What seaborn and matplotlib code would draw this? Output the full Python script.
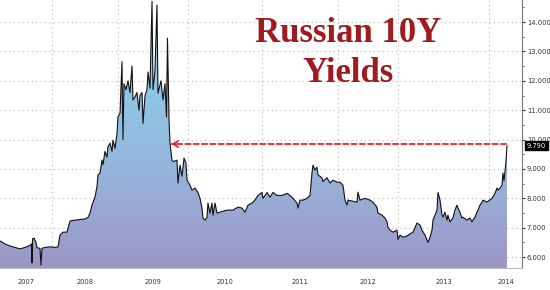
import numpy as np
import pandas as pd
import matplotlib
matplotlib.use("Agg")
import matplotlib.pyplot as plt
from matplotlib.colors import LinearSegmentedColormap
import matplotlib.ticker as mticker
import seaborn as sns

# ---------------- data (decimal year, yield %) ----------------
DATES = [
    2007.212, 2007.288, 2007.364, 2007.439, 2007.515, 2007.591, 2007.667, 2007.689, 2007.697, 2007.705,
    2007.727, 2007.758, 2007.773, 2007.818, 2007.833, 2007.848, 2007.894, 2007.970,
    2008.045, 2008.091, 2008.121, 2008.167, 2008.227, 2008.273, 2008.348, 2008.424, 2008.500, 2008.545,
    2008.576, 2008.606, 2008.652, 2008.682, 2008.697, 2008.727, 2008.758, 2008.773, 2008.803, 2008.833,
    2008.848, 2008.879, 2008.909, 2008.924, 2008.955, 2008.985,
    2009.000, 2009.029, 2009.043, 2009.057, 2009.071, 2009.086, 2009.114, 2009.143, 2009.171, 2009.200,
    2009.214, 2009.243, 2009.271, 2009.300, 2009.314, 2009.343, 2009.357, 2009.386, 2009.414, 2009.429,
    2009.457, 2009.486, 2009.500, 2009.529, 2009.557, 2009.571, 2009.614, 2009.643, 2009.671, 2009.693,
    2009.707, 2009.729, 2009.743, 2009.771, 2009.786, 2009.843, 2009.857, 2009.886, 2009.914, 2009.943,
    2009.971, 2009.986,
    2010.027, 2010.054, 2010.095, 2010.135, 2010.162, 2010.189, 2010.203, 2010.230, 2010.257, 2010.270,
    2010.297, 2010.324, 2010.338, 2010.365, 2010.392, 2010.432, 2010.527, 2010.608, 2010.676, 2010.730,
    2010.770, 2010.811, 2010.865, 2010.905, 2010.946,
    2011.000, 2011.013, 2011.066, 2011.105, 2011.145, 2011.197, 2011.263, 2011.329, 2011.368, 2011.408,
    2011.461, 2011.474, 2011.500, 2011.539, 2011.592, 2011.632, 2011.658, 2011.671, 2011.697, 2011.724,
    2011.737, 2011.789, 2011.803, 2011.855, 2011.895, 2011.934, 2011.987,
    2012.033, 2012.083, 2012.117, 2012.150, 2012.167, 2012.250, 2012.317, 2012.333, 2012.367, 2012.450,
    2012.533, 2012.583, 2012.650, 2012.667, 2012.733, 2012.783, 2012.817, 2012.833, 2012.867, 2012.917,
    2012.983,
    2013.000, 2013.022, 2013.055, 2013.099, 2013.132, 2013.165, 2013.209, 2013.242, 2013.264, 2013.297,
    2013.330, 2013.352, 2013.374, 2013.385, 2013.407, 2013.429, 2013.440, 2013.462, 2013.484, 2013.495,
    2013.516, 2013.538, 2013.549, 2013.571, 2013.604, 2013.626, 2013.648, 2013.659, 2013.681, 2013.703,
    2013.714, 2013.758, 2013.791, 2013.813, 2013.824, 2013.846, 2013.868, 2013.879, 2013.901, 2013.923,
    2013.934, 2013.978, 2013.989,
    2014.033, 2014.066, 2014.088, 2014.099, 2014.121, 2014.143, 2014.154, 2014.165, 2014.187, 2014.198,
]
YIELDS = [
    6.55, 6.45, 6.38, 6.33, 6.28, 6.33, 6.40, 6.45, 5.80, 6.62,
    6.65, 6.50, 6.32, 6.30, 5.73, 6.30, 6.33, 6.35,
    6.33, 6.35, 6.75, 6.85, 6.85, 7.23, 7.26, 7.28, 7.30, 7.35,
    7.50, 7.77, 8.05, 8.40, 8.80, 8.86, 9.30, 9.15, 9.60, 9.40,
    9.75, 9.88, 9.60, 9.98, 9.70, 10.20,
    10.77, 10.90, 11.80, 12.65, 10.00, 11.90, 11.70, 12.00, 11.60, 12.50,
    11.35, 11.45, 11.60, 11.00, 11.50, 11.60, 10.55, 11.50, 11.70, 12.30,
    11.75, 14.70, 11.70, 12.37, 14.58, 11.58, 12.00, 11.35, 11.90, 10.77,
    13.45, 10.67, 9.88, 9.30, 9.25, 9.30, 8.52, 9.13, 8.75, 9.37,
    9.20, 8.62,
    8.45, 8.28, 8.35, 8.20, 8.00, 7.67, 7.33, 7.26, 7.36, 7.84,
    7.50, 7.84, 7.43, 7.84, 7.50, 7.53, 7.60, 7.60, 7.70, 7.67,
    7.53, 7.77, 7.84, 7.94, 8.10,
    8.20, 8.00, 8.20, 8.04, 8.20, 8.10, 8.10, 8.17, 8.10, 8.00,
    7.84, 7.67, 7.94, 7.94, 8.00, 8.10, 8.86, 9.13, 8.96, 9.06,
    8.80, 8.70, 8.57, 8.70, 8.52, 8.62, 8.55,
    8.55, 8.45, 7.94, 7.77, 7.94, 7.90, 7.87, 8.21, 7.94, 8.00,
    7.94, 7.87, 7.70, 7.50, 7.43, 7.33, 7.20, 7.02, 6.92, 6.85,
    6.92,
    6.60, 6.75, 6.68, 6.72, 6.79, 6.85, 7.16, 7.09, 6.92, 6.75,
    6.50, 6.68, 6.92, 7.26, 7.43, 7.60, 8.20, 7.94, 7.43, 7.36,
    7.53, 7.26, 7.43, 7.20, 7.33, 7.60, 7.77, 7.67, 7.53, 7.33,
    7.36, 7.26, 7.33, 7.20, 7.26, 7.36, 7.53, 7.60, 7.77, 7.87,
    7.94, 7.87, 7.90,
    8.00, 8.17, 8.35, 8.28, 8.35, 8.45, 8.86, 8.60, 9.23, 9.79,
]
YEARS = [2007, 2008, 2009, 2010, 2011, 2012, 2013, 2014]
Y_TICKS = [6, 7, 8, 9, 10, 11, 12, 13, 14]
LAST_VALUE = 9.79
ARROW_LEVEL = 9.85
ARROW_FROM = 2014.19
ARROW_TO = 2009.765
TITLE_LINES = ["Russian 10Y", "Yields"]

df = pd.DataFrame({"date": DATES, "yield": YIELDS})

# ---------------- style ----------------
sns.set_style("white")
plt.rcParams["font.family"] = ["DejaVu Sans"]

# piecewise year -> screen mapping of the original terminal chart
YEAR_EDGES = np.array([2007, 2008, 2009, 2010, 2011, 2012, 2013, 2014, 2015], float)
EDGE_POS = np.array([-14, 52, 118, 188, 262, 338, 398, 489, 580], float)


def fwd(x):
    x = np.asarray(x, float)
    out = np.interp(x, YEAR_EDGES, EDGE_POS)
    out = np.where(x < YEAR_EDGES[0], EDGE_POS[0] + (x - YEAR_EDGES[0]) * 66, out)
    out = np.where(x > YEAR_EDGES[-1], EDGE_POS[-1] + (x - YEAR_EDGES[-1]) * 91, out)
    return out


def inv(p):
    p = np.asarray(p, float)
    out = np.interp(p, EDGE_POS, YEAR_EDGES)
    out = np.where(p < EDGE_POS[0], YEAR_EDGES[0] + (p - EDGE_POS[0]) / 66, out)
    out = np.where(p > EDGE_POS[-1], YEAR_EDGES[-1] + (p - EDGE_POS[-1]) / 91, out)
    return out


fig = plt.figure(figsize=(5.5, 2.9), dpi=100)
ax = fig.add_axes([0.0, 22 / 290, 522 / 550, 268 / 290])
ax.set_xscale("function", functions=(fwd, inv))

XMIN, XMAX = 2007.212, 2014.363
YMIN, YMAX = 5.63, 14.75
ax.set_xlim(XMIN, XMAX)
ax.set_ylim(YMIN, YMAX)

# gradient fill under the curve
fill = ax.fill_between(df["date"], df["yield"], YMIN - 1, color="none", lw=0, zorder=1)
cmap = LinearSegmentedColormap.from_list(
    "g", [(0.0, "#9c96c6"), (0.28, "#98aed7"), (0.5, "#93bee1"), (0.75, "#8ccbe8"), (1.0, "#8ad2ee")])
grad = np.linspace(0, 1, 256).reshape(-1, 1)
im = ax.imshow(grad, extent=[XMIN, XMAX, YMIN, YMAX], origin="lower",
               aspect="auto", cmap=cmap, zorder=1, interpolation="bilinear")
path = fill.get_paths()[0]
im.set_clip_path(path, transform=fill.get_transform())

sns.lineplot(data=df, x="date", y="yield", color="#111111", lw=0.8, ax=ax,
             estimator=None, sort=True, zorder=3)

ax.set_xlim(XMIN, XMAX)
ax.set_ylim(YMIN, YMAX)

# grid
for yv in Y_TICKS:
    ax.axhline(yv, color="#b8b8b8", lw=0.8, ls=(0, (1, 3)), zorder=0.5)
for yr in YEARS[1:]:
    ax.axvline(yr, color="#b8b8b8", lw=0.8, ls=(0, (1, 3)), zorder=0.5)

# spines
for s in ["left", "top"]:
    ax.spines[s].set_visible(False)
ax.spines["right"].set_color("#777777")
ax.spines["right"].set_linewidth(0.8)
ax.spines["bottom"].set_color("#bbbbbb")
ax.spines["bottom"].set_linewidth(0.8)

# y axis on the right
ax.yaxis.tick_right()
ax.set_yticks(Y_TICKS)
ax.yaxis.set_major_formatter(mticker.FormatStrFormatter("%.3f"))
ax.yaxis.set_minor_locator(mticker.MultipleLocator(0.5))
ax.tick_params(axis="y", which="major", direction="out", length=2.5, width=0.8,
               color="#333333", labelsize=4.9, labelcolor="#333333", pad=1.0)
ax.tick_params(axis="y", which="minor", direction="out", length=1.5, width=0.6, color="#555555")

# x axis: year separators + labels
ax.set_xticks(YEARS[1:])
ax.set_xticklabels([])
ax.xaxis.set_minor_locator(mticker.NullLocator())
ax.tick_params(axis="x", which="major", direction="out", length=20, width=0.8, color="#bbbbbb")
ax.set_xlabel("")
ax.set_ylabel("")

for yr in YEARS:
    lo, hi = max(yr, XMIN), min(yr + 1, XMAX)
    mid = float(inv((fwd(lo) + fwd(hi)) / 2))
    ax.text(mid, -0.052, str(yr), transform=ax.get_xaxis_transform(), ha="center", va="center",
            fontsize=4.8, color="#333333")

# last value tag
ax.annotate(f"{LAST_VALUE:.3f}", xy=(1.0, LAST_VALUE), xycoords=("axes fraction", "data"),
            xytext=(3.5, 0), textcoords="offset points", ha="left", va="center",
            fontsize=4.9, color="white",
            bbox=dict(boxstyle="square,pad=0.25", fc="black", ec="black"), annotation_clip=False)

# red dashed arrow
red = "#e8262a"
ax.annotate("", xy=(ARROW_TO, ARROW_LEVEL), xytext=(ARROW_FROM, ARROW_LEVEL),
            arrowprops=dict(arrowstyle="-", color=red, lw=1.3, ls=(0, (3, 1.6)),
                            shrinkA=0, shrinkB=0), zorder=4)
ax.annotate("", xy=(ARROW_TO, ARROW_LEVEL), xytext=(ARROW_TO + 0.06, ARROW_LEVEL),
            arrowprops=dict(arrowstyle="->,head_length=0.35,head_width=0.22", color=red, lw=1.3,
                            shrinkA=0, shrinkB=0), zorder=4)

# title
title_font = dict(family=["Liberation Serif", "DejaVu Serif"], weight="bold", size=25,
                  color="#9e1b20")
fig.text(348 / 550, 1 - 42 / 290, TITLE_LINES[0], ha="center", va="baseline", **title_font)
fig.text(348 / 550, 1 - 82 / 290, TITLE_LINES[1], ha="center", va="baseline", **title_font)

fig.savefig("out.png", dpi=100)
